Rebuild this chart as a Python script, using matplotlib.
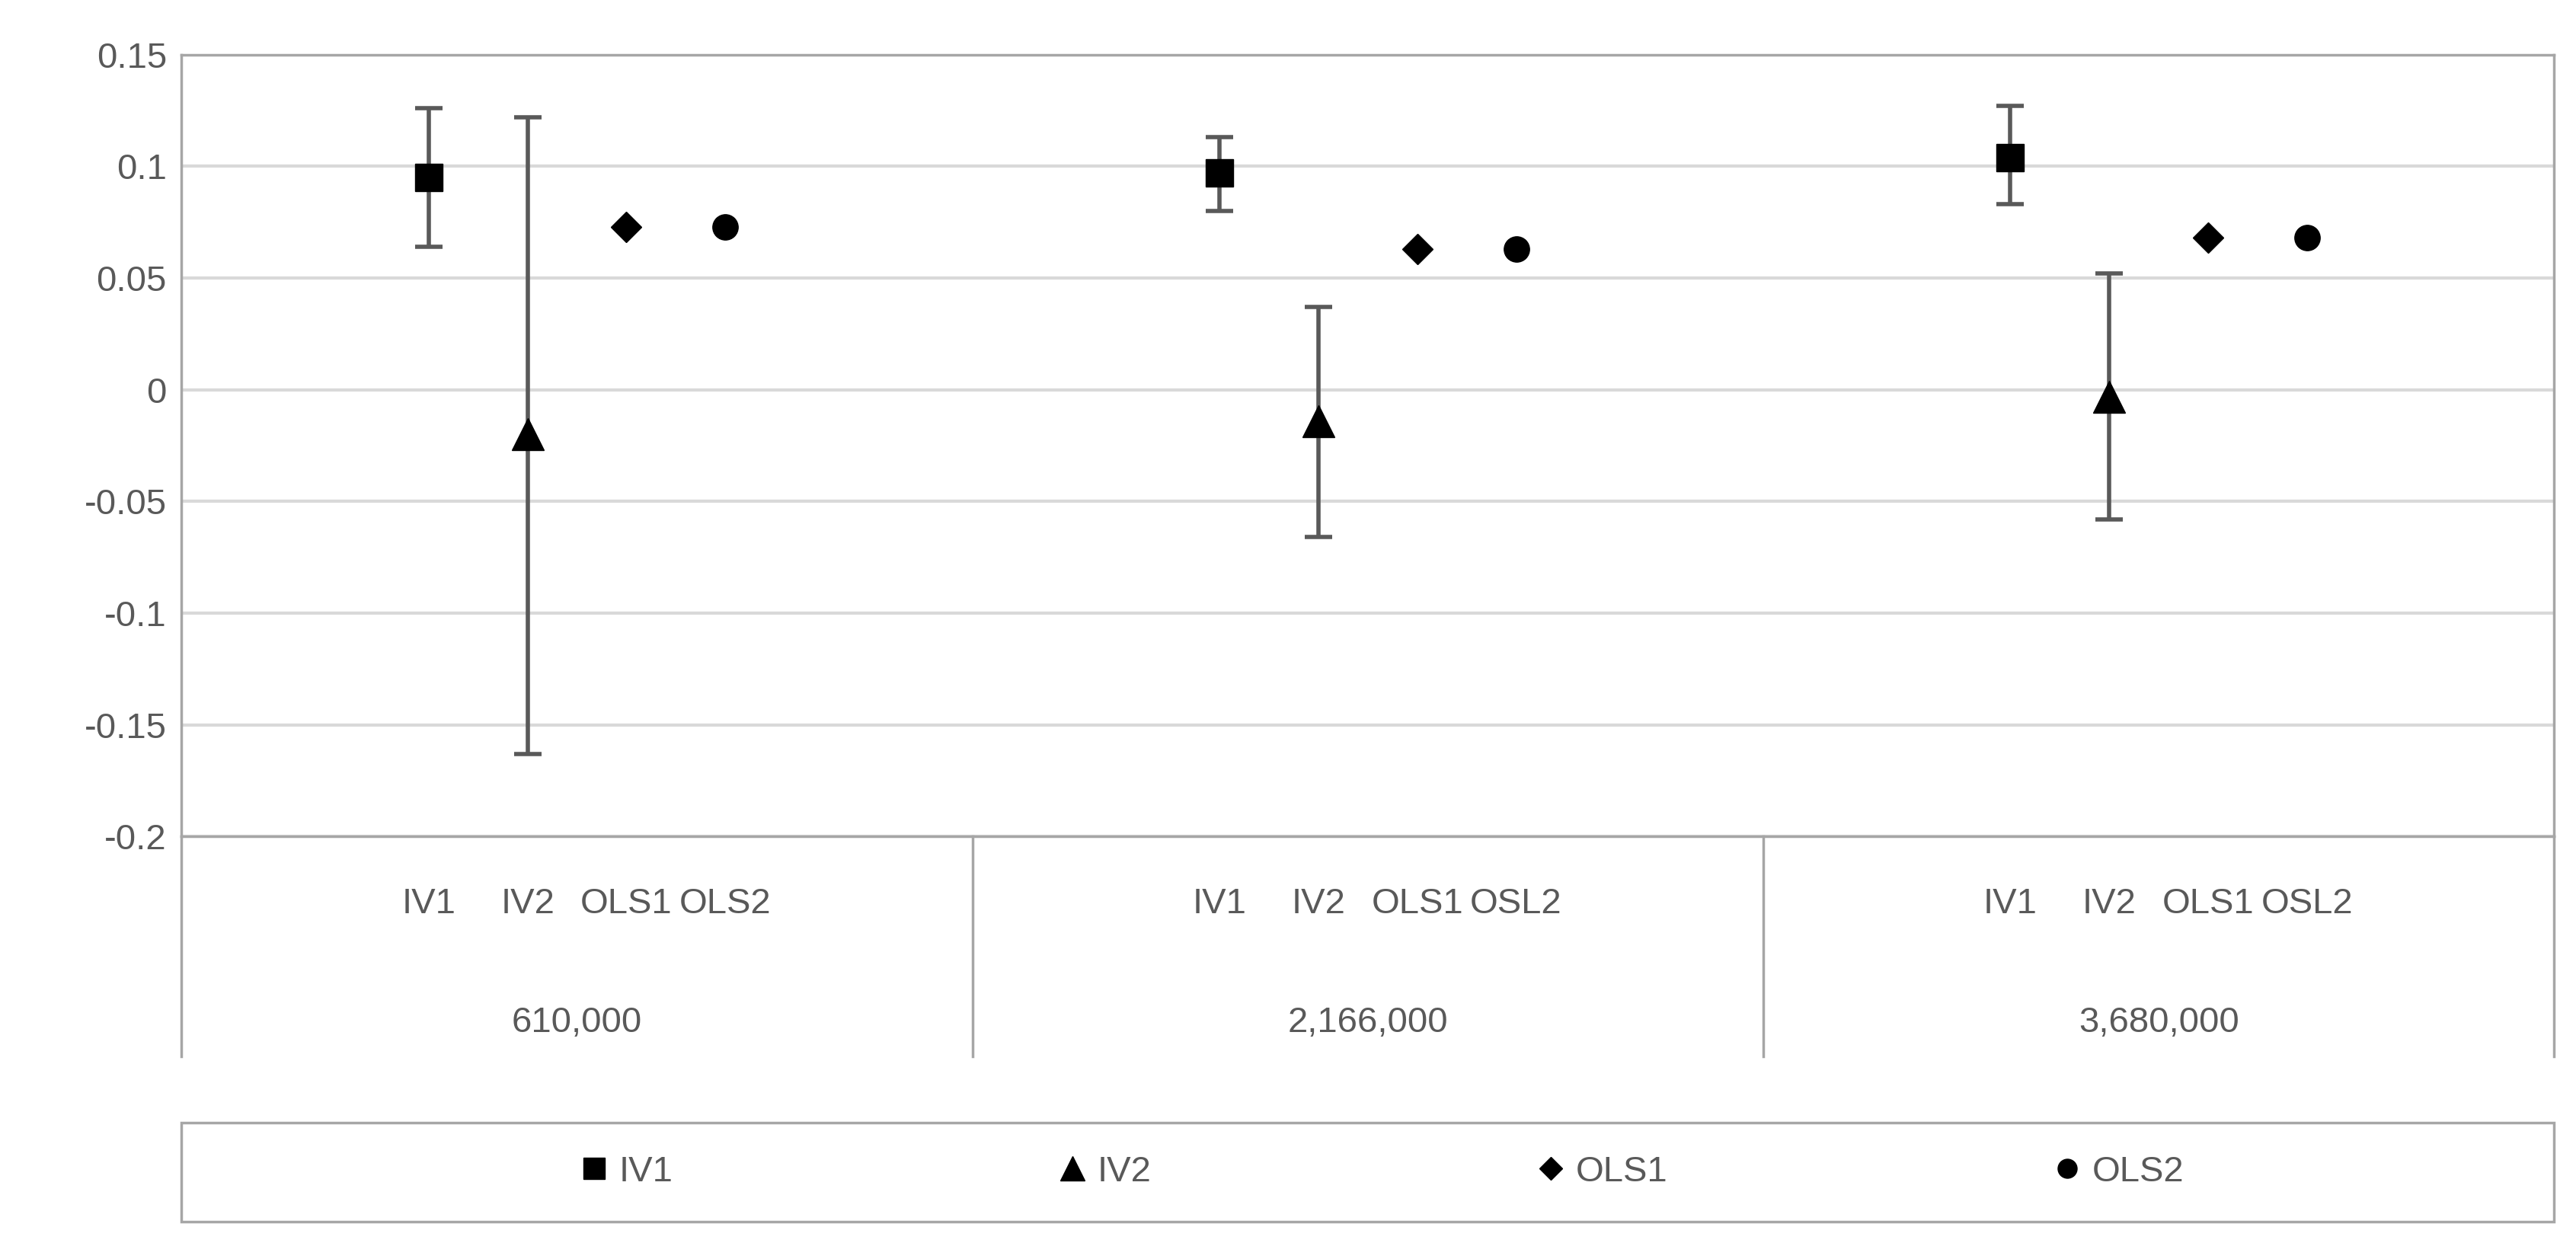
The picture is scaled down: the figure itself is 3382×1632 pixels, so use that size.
import numpy as np
import matplotlib.pyplot as plt
from matplotlib.lines import Line2D
from matplotlib.patches import Rectangle

plt.rcParams['font.family'] = ['Liberation Sans', 'DejaVu Sans']

groups = ['610,000', '2,166,000', '3,680,000']
series = ['IV1', 'IV2', 'OLS1', 'OLS2']
sub_labels = [['IV1', 'IV2', 'OLS1', 'OLS2'],
              ['IV1', 'IV2', 'OLS1', 'OSL2'],
              ['IV1', 'IV2', 'OLS1', 'OSL2']]
values = {
    'IV1': [0.095, 0.097, 0.104],
    'IV2': [-0.020, -0.014, -0.003],
    'OLS1': [0.073, 0.063, 0.068],
    'OLS2': [0.073, 0.063, 0.068],
}
upper = {'IV1': [0.126, 0.113, 0.127], 'IV2': [0.122, 0.037, 0.052]}
lower = {'IV1': [0.064, 0.080, 0.083], 'IV2': [-0.163, -0.066, -0.058]}
markers = {'IV1': 's', 'IV2': '^', 'OLS1': 'D', 'OLS2': 'o'}
msizes = {'IV1': 26, 'IV2': 30, 'OLS1': 20, 'OLS2': 24}

gray = '#595959'
fig = plt.figure(figsize=(33.82, 16.32), dpi=100)
ax = fig.add_axes([0.0705, 0.327, 0.921, 0.629])

slots = 8
for si, s in enumerate(series):
    xs = np.arange(len(groups)) * slots + 2 + si + 0.5
    v = np.array(values[s])
    ax.plot(xs, v, ls='none', marker=markers[s], ms=msizes[s], color='black',
            label=s, zorder=3)
    if s in upper:
        yerr = [v - np.array(lower[s]), np.array(upper[s]) - v]
        ax.errorbar(xs, v, yerr=yerr, fmt='none', ecolor=gray, elinewidth=4,
                    capsize=13, capthick=4, zorder=2)

ax.set_xlim(0, slots * len(groups))
ax.set_ylim(-0.2, 0.15)
ax.set_yticks(np.arange(-0.2, 0.151, 0.05))
ax.set_yticklabels(['-0.2', '-0.15', '-0.1', '-0.05', '0', '0.05', '0.1', '0.15'])
ax.set_xticks([])
ax.yaxis.grid(True, color='#d9d9d9', lw=3)
ax.set_axisbelow(True)
ax.tick_params(axis='y', length=0, labelsize=34, labelcolor=gray, pad=14)
for sp in ax.spines.values():
    sp.set_color('#a6a6a6')
    sp.set_linewidth(2.5)

trans = ax.get_xaxis_transform()
for gi, g in enumerate(groups):
    for si, lab in enumerate(sub_labels[gi]):
        ax.text(gi * slots + 2 + si + 0.5, -0.086, lab, transform=trans,
                ha='center', va='center', fontsize=34, color=gray)
    ax.text(gi * slots + slots / 2, -0.238, g, transform=trans,
            ha='center', va='center', fontsize=34, color=gray)
for gi in range(len(groups) + 1):
    ax.add_line(Line2D([gi * slots] * 2, [0, -0.281], transform=trans,
                       color='#a6a6a6', lw=2.5, clip_on=False))

# legend box
fig.add_artist(Rectangle((0.0705, 0.017), 0.921, 0.080, transform=fig.transFigure,
                         fill=False, edgecolor='#a6a6a6', lw=2.5))
leg = fig.legend(loc='center', bbox_to_anchor=(0.535, 0.057), ncol=4, fontsize=34,
                 frameon=False, markerscale=0.75, handletextpad=0.1,
                 handlelength=1.2, columnspacing=10.5)
for t in leg.get_texts():
    t.set_color(gray)

fig.savefig('out.png', dpi=100)
